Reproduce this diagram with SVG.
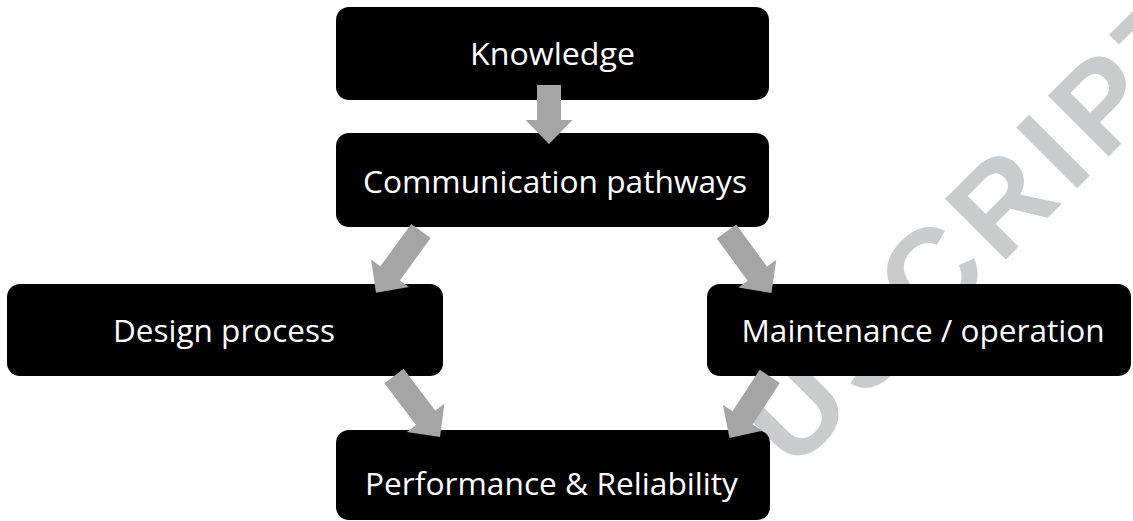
<svg xmlns="http://www.w3.org/2000/svg" width="1133" height="521" viewBox="0 0 1133 521">
<style>
.box{fill:#000000}
.lbl{fill:#ffffff;font-family:"Open Sans","Noto Sans","Liberation Sans",sans-serif;font-size:31px;text-anchor:middle}
.arr{fill:#a5a5a5}
.wm{fill:#c9cbcd;font-family:"Liberation Sans",Arial,sans-serif;font-weight:bold;font-size:125px;text-anchor:middle}
</style>
<rect width="1133" height="521" fill="#ffffff"/>
<g id="watermark" transform="translate(795,411) rotate(-45)">
<text class="wm" x="0 97 193 293 366 435 525" y="42">USCRIPT</text>
</g>
<g id="knowledge">
<rect class="box" x="336" y="7" width="433" height="93" rx="13"/>
<text class="lbl" x="552.5" y="65" textLength="165" lengthAdjust="spacingAndGlyphs">Knowledge</text>
</g>
<g id="communication">
<rect class="box" x="336" y="133" width="433" height="94" rx="13"/>
<text class="lbl" x="555" y="193" textLength="384" lengthAdjust="spacingAndGlyphs">Communication pathways</text>
</g>
<g id="design">
<rect class="box" x="7" y="284" width="436" height="92" rx="13"/>
<text class="lbl" x="224" y="342" textLength="222" lengthAdjust="spacingAndGlyphs">Design process</text>
</g>
<g id="maintenance">
<rect class="box" x="707" y="284" width="424" height="92" rx="13"/>
<text class="lbl" x="923" y="342" textLength="363" lengthAdjust="spacingAndGlyphs">Maintenance / operation</text>
</g>
<g id="performance">
<rect class="box" x="336" y="430" width="434" height="90" rx="13"/>
<text class="lbl" x="551.5" y="495" textLength="373" lengthAdjust="spacingAndGlyphs">Performance &amp; Reliability</text>
</g>
<g id="connectors">
<polygon class="arr" points="537,85 561,85 561,120 572.5,120 549,144 525.5,120 537,120"/>
<polygon class="arr" points="430.7,238.1 399.8,280.4 409.1,287.1 376,292.7 371.1,259.5 380.4,266.2 411.3,223.9"/>
<polygon class="arr" points="736.2,224.4 767,266.5 776.3,259.7 771.5,293 738.3,287.5 747.6,280.7 716.8,238.6"/>
<polygon class="arr" points="403.6,368.8 435.2,410.6 444.4,403.7 440,437 406.8,431.9 416,425 384.4,383.2"/>
<polygon class="arr" points="779.8,382.9 752.7,424.5 762.3,430.7 729.5,438 722.9,405.1 732.5,411.3 759.6,369.7"/>
</g>
</svg>
